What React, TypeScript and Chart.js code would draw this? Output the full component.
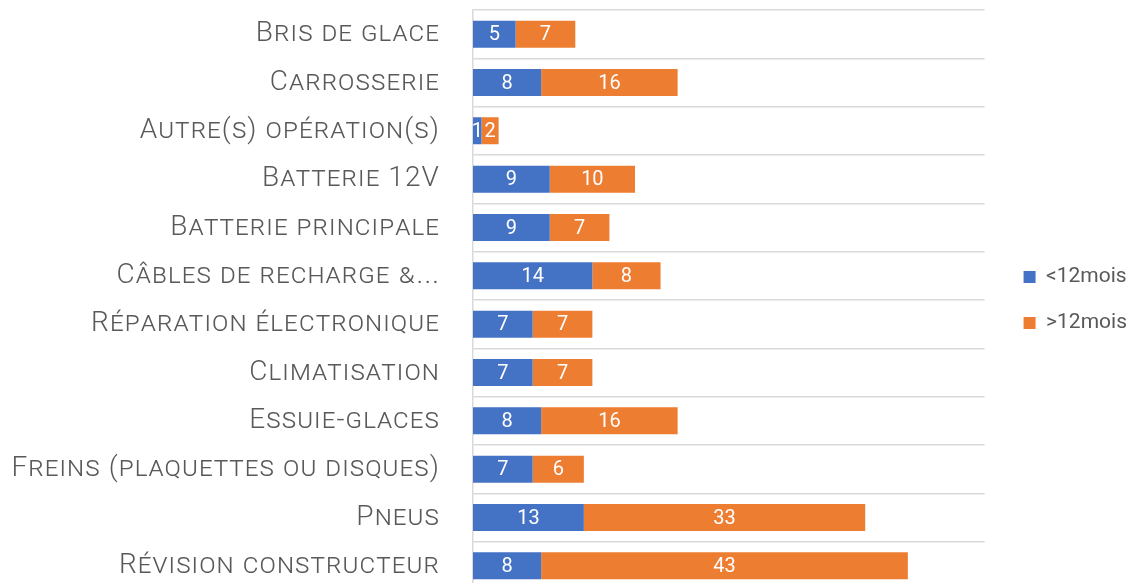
import React, { useEffect, useRef } from "react";
import { Chart, registerables } from "chart.js";

Chart.register(...registerables);

const categories = [
  "Bris de glace",
  "Carrosserie",
  "Autre(s) opération(s)",
  "Batterie 12V",
  "Batterie principale",
  "Câbles de recharge &...",
  "Réparation électronique",
  "Climatisation",
  "Essuie-glaces",
  "Freins (plaquettes ou disques)",
  "Pneus",
  "Révision constructeur",
];
const under12 = [5, 8, 1, 9, 9, 14, 7, 7, 8, 7, 13, 8];
const over12 = [7, 16, 2, 10, 7, 8, 7, 7, 16, 6, 33, 43];
const seriesNames = ["<12mois", ">12mois"];
const xMax = 60;

const valueLabels = {
  id: "valueLabels",
  afterDatasetsDraw(chart: any) {
    const ctx = chart.ctx;
    ctx.save();
    ctx.letterSpacing = "0px";
    ctx.font = "20px Roboto";
    ctx.fillStyle = "#ffffff";
    ctx.textAlign = "center";
    ctx.textBaseline = "middle";
    chart.data.datasets.forEach((ds: any, i: number) => {
      const meta = chart.getDatasetMeta(i);
      meta.data.forEach((el: any, j: number) => {
        const p = el.getProps(["x", "y", "base"], true);
        ctx.fillText(String(ds.data[j]), (p.x + p.base) / 2, p.y + 1);
      });
    });
    ctx.restore();
    ctx.letterSpacing = "1.1px";
  },
  afterDraw(chart: any) {
    chart.ctx.letterSpacing = "0px";
  },
};

export default function App() {
  const ref = useRef<HTMLCanvasElement | null>(null);
  useEffect(() => {
    if (!ref.current) return;
    const chart = new Chart(ref.current, {
      type: "bar",
      data: {
        labels: categories,
        datasets: [
          {
            label: seriesNames[0],
            data: under12,
            backgroundColor: "#4472C4",
            borderWidth: 0,
            barPercentage: 0.56,
            categoryPercentage: 1,
          },
          {
            label: seriesNames[1],
            data: over12,
            backgroundColor: "#ED7D31",
            borderWidth: 0,
            barPercentage: 0.56,
            categoryPercentage: 1,
          },
        ],
      },
      options: {
        indexAxis: "y",
        animation: false,
        responsive: true,
        maintainAspectRatio: false,
        layout: { padding: { top: 10, bottom: 2, left: 0, right: -7 } },
        plugins: {
          tooltip: { enabled: false },
          legend: {
            position: "right",
            labels: {
              boxWidth: 12,
              boxHeight: 12,
              padding: 25,
              color: "#595959",
              font: { family: "Roboto", size: 21 },
            },
          },
        },
        scales: {
          x: {
            type: "linear",
            stacked: true,
            min: 0,
            max: xMax,
            display: false,
          },
          y: {
            type: "category",
            stacked: true,
            position: "left",
            grid: { offset: true, color: "#d9d9d9", lineWidth: 1.5, drawTicks: false },
            border: { color: "#d9d9d9", width: 1.5 },
            ticks: {
              z: 1,
              padding: 33,
              color: "#595959",
              font: { family: "Roboto", size: 28, weight: "small-caps 300" as any },
            },
            afterFit: (s: any) => {
              s.width = 473;
              s.paddingTop = 0;
              s.paddingBottom = 0;
            },
          },
          yRight: {
            type: "linear",
            axis: "y",
            position: "right",
            display: true,
            ticks: { display: false },
            grid: { display: false },
            border: { display: false },
            afterFit: (s: any) => {
              s.width = 14;
              s.paddingTop = 0;
              s.paddingBottom = 0;
            },
          },
        },
      } as any,
      plugins: [valueLabels],
    });
    return () => chart.destroy();
  }, []);
  return (
    <div style={{ position: "fixed", left: 0, top: 0, width: 1130, height: 592 }}>
      <canvas ref={ref} />
    </div>
  );
}
